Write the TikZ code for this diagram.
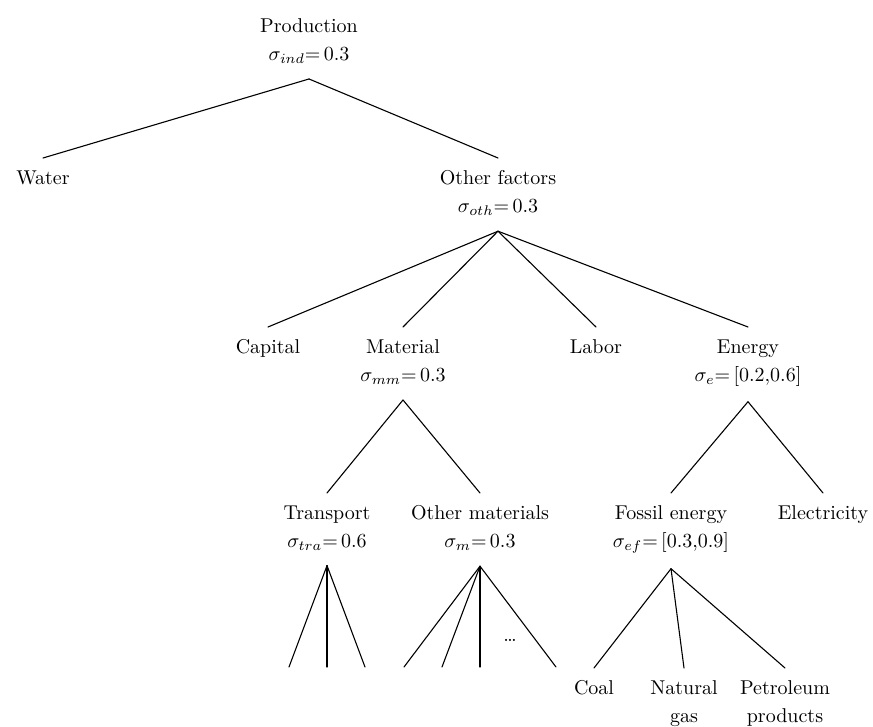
\documentclass[tikz,border=0pt]{standalone}
\usepackage{tikz}
\begin{document}
\begin{tikzpicture}[x=0.5pt, y=-0.5pt, line width=0.55pt, line cap=round,
    every node/.style={anchor=north, align=center, inner xsep=0pt, inner ysep=6pt,
        font=\fontsize{10}{14}\selectfont}]
    \useasboundingbox (0,0) rectangle (873,727);
    % top level
    \node (prod) at (309,6) {Production\\$\sigma_{ind}{=}\,0.3$};
    \node (water) at (43,158) {Water};
    \node (oth) at (498,158) {Other factors\\$\sigma_{oth}{=}\,0.3$};
    % second level
    \node (cap) at (268,327) {Capital};
    \node (mat) at (403,327) {Material\\$\sigma_{mm}{=}\,0.3$};
    \node (lab) at (596,327) {Labor};
    \node (ene) at (748,327) {Energy\\$\sigma_{e}{=}\,[0.2{,}0.6]$};
    % third level
    \node (tra) at (327,493) {Transport\\$\sigma_{tra}{=}\,0.6$};
    \node (omat) at (480,493) {Other materials\\$\sigma_{m}{=}\,0.3$};
    \node (fos) at (671,493) {Fossil energy\\$\sigma_{ef}{=}\,[0.3{,}0.9]$};
    \node (ele) at (823,493) {Electricity};
    % fossil fuels
    \node (coal) at (594,668) {Coal};
    \node (gas) at (684,668) {Natural\\gas};
    \node (pet) at (785,668) {Petroleum\\products};
    \node[anchor=base] (dots) at (510,641) {\dots};
    % unlabelled ends
    \foreach \x [count=\i] in {289,327,365}
        \coordinate (tra-\i) at (\x,667);
    \foreach \x [count=\i] in {404,442,480,556}
        \coordinate (omat-\i) at (\x,667);

    \draw ([yshift=-1.5pt]prod.south) -- (water.north);
    \draw ([yshift=-1.5pt]prod.south) -- (oth.north);
    \foreach \c in {cap,mat,lab,ene}
        \draw ([yshift=-1.5pt]oth.south) -- (\c.north);
    \draw ([yshift=-1.5pt]mat.south) -- (tra.north);
    \draw ([yshift=-1.5pt]mat.south) -- (omat.north);
    \draw ([yshift=-1.5pt]ene.south) -- (fos.north);
    \draw ([yshift=-1.5pt]ene.south) -- (ele.north);
    \foreach \i in {1,2,3}
        \draw ([yshift=-1.5pt]tra.south) -- (tra-\i);
    \foreach \i in {1,2,3,4}
        \draw ([yshift=-1.5pt]omat.south) -- (omat-\i);
    \foreach \c in {coal,gas,pet}
        \draw ([yshift=-1.5pt]fos.south) -- (\c.north);
\end{tikzpicture}
\end{document}
